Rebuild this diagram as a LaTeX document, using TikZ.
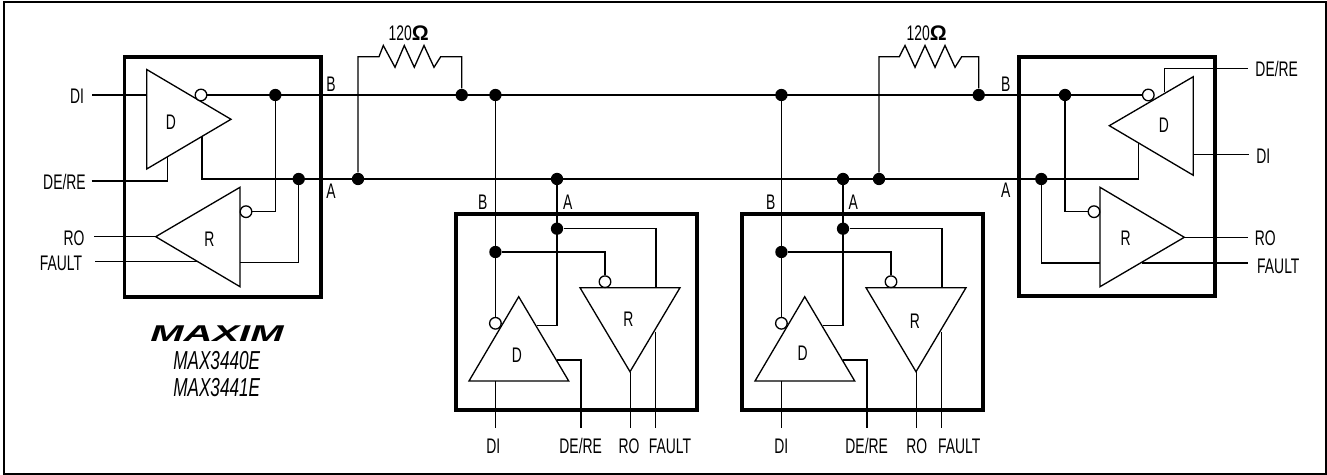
\documentclass[tikz,border=0pt]{standalone}
\usepackage{fontspec}
\setmainfont[FakeStretch=0.66]{Liberation Sans}
\newfontfamily\logofont[FakeStretch=1.75]{Liberation Sans}
\newfontfamily\ohmfont{Liberation Sans}
\tikzset{
  wire/.style={line width=0.75pt},
  chipbox/.style={line width=2.1pt},
  amp/.style={line width=0.75pt, line join=miter},
  bubble/.style={circle, draw, fill=white, line width=0.75pt, inner sep=0pt, minimum size=6.6pt},
  joint/.style={circle, fill=black, inner sep=0pt, minimum size=7pt},
  lbl/.style={inner sep=0pt, text depth=0pt, font=\fontsize{12}{14}\selectfont},
  partno/.style={inner sep=0pt, text depth=0pt, font=\fontsize{14.8}{16}\selectfont\itshape}
}
\begin{document}
\begin{tikzpicture}[x=0.02cm, y=-0.02cm]
\useasboundingbox (0,0) rectangle (1327,475);
\node[draw, line width=1.15pt, inner sep=0pt, minimum width=1322*0.02cm, minimum height=472*0.02cm] (frame) at (665,238) {};

% left transceiver
\draw[chipbox] (124.5,57) rectangle (320.7,296.7);
\draw[amp] (146.7,69.5) -- (231,119.3) -- (146.7,169) -- cycle;
\draw[amp] (240,187.3) -- (155.7,236.7) -- (240,286.7) -- cycle;
\node[lbl] (drvL) at (171,122.7) {D};
\node[lbl] (rcvL) at (209.3,239) {R};
\node[bubble] (bubDL) at (201,95) {};
\node[bubble] (bubRL) at (246,211.7) {};
\node[joint] (dotBL) at (275.3,95) {};
\node[joint] (dotAL) at (298.7,179) {};
\node[lbl] (diL) at (77,96) {DI};
\node[lbl] (deL) at (64.5,182) {DE/RE};
\node[lbl] (roL) at (74,238) {RO};
\node[lbl] (fltL) at (61,263) {FAULT};
\coordinate (diLa) at (92,95);
\coordinate (diLb) at (146.7,95);
\coordinate (deLa) at (91.5,181);
\coordinate (deLb) at (167.7,156.6);
\coordinate (roLa) at (94,236.7);
\coordinate (roLb) at (155.7,236.7);
\coordinate (fltLa) at (95,261.7);
\coordinate (fltLb) at (197.9,261.7);
\coordinate (outLa) at (240,262.3);
\draw[wire] (diLa) -- (diLb);
\draw[wire] (deLa) -| (deLb);
\draw[wire] (roLa) -- (roLb);
\draw[wire] (fltLa) -- (fltLb);
\draw[wire] (bubRL) -| (dotBL);
\draw[wire] (outLa) -| (dotAL);

% right transceiver
\draw[chipbox] (1019.3,56.7) rectangle (1215,296);
\draw[amp] (1193.3,76.7) -- (1109.3,125.7) -- (1193.3,175.3) -- cycle;
\draw[amp] (1100,187.3) -- (1184.3,237.3) -- (1100,286.7) -- cycle;
\node[lbl] (drvR) at (1164,125.7) {D};
\node[lbl] (rcvR) at (1125.7,238.3) {R};
\node[bubble] (bubDR) at (1148.3,95) {};
\node[bubble] (bubRR) at (1094,211.7) {};
\node[joint] (dotBR) at (1065,95) {};
\node[joint] (dotAR) at (1041.3,179) {};
\node[lbl] (deR) at (1276.7,69.3) {DE/RE};
\node[lbl] (diR) at (1263.3,156) {DI};
\node[lbl] (roR) at (1265.3,237.7) {RO};
\node[lbl] (fltR) at (1278.3,266) {FAULT};
\coordinate (deRa) at (1164.3,92.5);
\coordinate (deRb) at (1247.7,68.7);
\coordinate (diRa) at (1193.3,154.3);
\coordinate (diRb) at (1249,154.3);
\coordinate (roRa) at (1184.3,237.3);
\coordinate (roRb) at (1248.3,237.3);
\coordinate (fltRa) at (1141.7,263);
\coordinate (fltRb) at (1248.3,263);
\coordinate (inRa) at (1100,263);
\draw[wire] (deRa) |- (deRb);
\draw[wire] (diRa) -- (diRb);
\draw[wire] (roRa) -- (roRb);
\draw[wire] (fltRa) -- (fltRb);
\draw[wire] (dotBR) |- (bubRR);
\draw[wire] (dotAR) |- (inRa);

% the two transceivers below the bus
\foreach \n/\dx in {p/0,q/286}{
  \draw[chipbox] (455.7+\dx,214) rectangle (696.9+\dx,410);
  \draw[amp] (518.7+\dx,296.7) -- (568.7+\dx,381) -- (469+\dx,381) -- cycle;
  \draw[amp] (580+\dx,287.7) -- (680+\dx,287.7) -- (630+\dx,371.7) -- cycle;
  \node[bubble] (bubD\n) at (495.4+\dx,323.3) {};
  \node[bubble] (bubR\n) at (605+\dx,281.7) {};
  \node[joint] (busB\n) at (495.4+\dx,95) {};
  \node[joint] (busA\n) at (557+\dx,179) {};
  \node[joint] (dotB\n) at (495.4+\dx,252) {};
  \node[joint] (dotA\n) at (557+\dx,228.7) {};
  \coordinate (outA\n) at (536.7+\dx,325.7);
  \coordinate (inA\n) at (656+\dx,287.7);
  \coordinate (deA\n) at (557.3+\dx,360);
  \coordinate (deB\n) at (580.9+\dx,428.5);
  \coordinate (diA\n) at (495.4+\dx,381);
  \coordinate (diB\n) at (495.4+\dx,428.5);
  \coordinate (roA\n) at (630.3+\dx,371.7);
  \coordinate (roB\n) at (630.3+\dx,428.5);
  \coordinate (fltA\n) at (655.5+\dx,331.7);
  \coordinate (fltB\n) at (655.5+\dx,428.5);
  \draw[wire] (busB\n) -- (bubD\n);
  \draw[wire] (dotB\n) -| (bubR\n);
  \draw[wire] (busA\n) |- (outA\n);
  \draw[wire] (dotA\n) -| (inA\n);
  \draw[wire] (deA\n) -| (deB\n);
  \draw[wire] (diA\n) -- (diB\n);
  \draw[wire] (roA\n) -- (roB\n);
  \draw[wire] (fltA\n) -- (fltB\n);
}
\node[lbl] (drvp) at (517,355.7) {D};
\node[lbl] (rcvp) at (628.3,319) {R};
\node[lbl] (bp) at (482.7,202.3) {B};
\node[lbl] (ap) at (567.7,202.3) {A};
\node[lbl] (dip) at (493.3,446) {DI};
\node[lbl] (dep) at (580.7,446) {DE/RE};
\node[lbl] (rop) at (629,446) {RO};
\node[lbl] (fltp) at (670,446) {FAULT};
\node[lbl] (drvq) at (802.7,353.3) {D};
\node[lbl] (rcvq) at (915,321.7) {R};
\node[lbl] (bq) at (770.7,202.3) {B};
\node[lbl] (aq) at (853.3,202.3) {A};
\node[lbl] (diq) at (781.3,446) {DI};
\node[lbl] (deq) at (866.7,446) {DE/RE};
\node[lbl] (roq) at (916.7,446) {RO};
\node[lbl] (fltq) at (959.3,446) {FAULT};

% bus lines and resistors
\node[joint] (resAL) at (358,179) {};
\node[joint] (resBL) at (461.7,95) {};
\node[joint] (resAR) at (879,179) {};
\node[joint] (resBR) at (978.7,95) {};
\coordinate (stubAL) at (202,136.5);
\coordinate (cornerAL) at (202,179);
\coordinate (cornerAR) at (1138.3,179);
\coordinate (stubAR) at (1138.3,142.9);
\draw[wire] (bubDL) -- (bubDR);
\draw[wire] (stubAL) -- (cornerAL) -- (cornerAR) -- (stubAR);
\draw[wire] (resAL) -- (358,56.7) -- (379,56.7) -- (383.3,45.5) -- (395,67.3) -- (404.3,45.5) -- (414.3,67.3) -- (424,45.5) -- (434,67.3) -- (440.7,56.7) -- (461.7,56.7) -- (resBL);
\draw[wire] (resAR) -- (879,56.7) -- (899.3,56.7) -- (905,45.5) -- (915,67.3) -- (925,45.5) -- (935,67.3) -- (945,45.5) -- (955,67.3) -- (961.7,56.7) -- (978.7,56.7) -- (resBR);
\node[lbl] (ohmL) at (408.7,32.7) {120{\ohmfont\bfseries Ω}};
\node[lbl] (ohmR) at (926.7,32.7) {120{\ohmfont\bfseries Ω}};
\node[lbl] (bL) at (331,84) {B};
\node[lbl] (aL) at (331,191) {A};
\node[lbl] (bR) at (1005.7,84) {B};
\node[lbl] (aR) at (1005.7,190.7) {A};

% maker and part numbers
\node[inner sep=0pt, text depth=0pt, font=\logofont\fontsize{13}{14}\selectfont\bfseries\itshape] (logo) at (217,333.5) {MAXIM};
\node[partno] (partA) at (216.7,360.7) {MAX3440E};
\node[partno] (partB) at (216.7,387) {MAX3441E};
\end{tikzpicture}
\end{document}
